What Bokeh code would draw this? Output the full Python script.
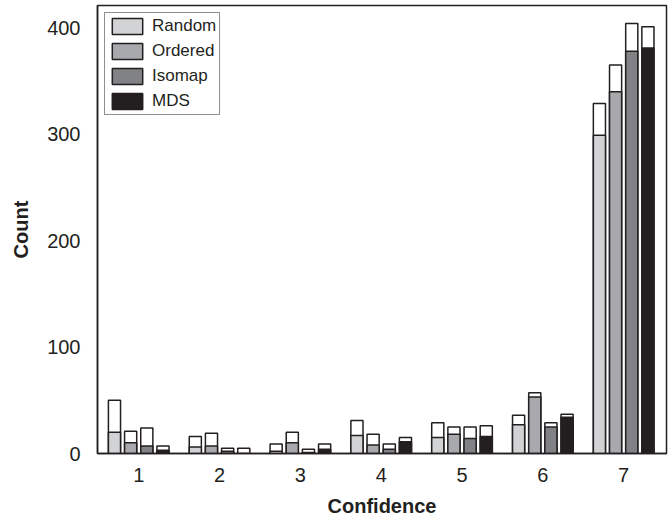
from bokeh.plotting import figure
from bokeh.models import ColumnDataSource, FixedTicker, Range1d, Legend
from bokeh.transform import dodge
from bokeh.embed import file_html
from bokeh.resources import INLINE

confidence = [1, 2, 3, 4, 5, 6, 7]
series = ["Random", "Ordered", "Isomap", "MDS"]

random_fill = [20, 6, 2, 17, 15, 27, 299]
random_total = [50, 16, 9, 31, 29, 36, 329]
ordered_fill = [10, 7, 10, 8, 18, 53, 340]
ordered_total = [21, 19, 20, 18, 25, 57, 365]
isomap_fill = [7, 2, 1, 4, 14, 25, 378]
isomap_total = [24, 5, 4, 9, 25, 29, 404]
mds_fill = [3, 0, 4, 11, 16, 34, 381]
mds_total = [7, 5, 9, 15, 26, 37, 401]

y_ticks = [0, 100, 200, 300, 400]

fills = [random_fill, ordered_fill, isomap_fill, mds_fill]
totals = [random_total, ordered_total, isomap_total, mds_total]
colors = ["#d1d3d4", "#a7a9ac", "#808285", "#231f20"]
offsets = [-0.3, -0.1, 0.1, 0.3]
ink = "#231f20"
font = "Liberation Sans"

p = figure(width=670, height=521, output_backend="svg", toolbar_location=None,
           x_range=Range1d(0.49, 7.53), y_range=Range1d(0, 421),
           min_border_left=97, min_border_right=4, min_border_top=5, min_border_bottom=68)

p.xgrid.visible = False
p.ygrid.visible = False
p.outline_line_color = ink
p.outline_line_width = 1.5
p.background_fill_color = "white"
p.border_fill_color = "white"

items = []
for name, f, t, c, off in zip(series, fills, totals, colors, offsets):
    src = ColumnDataSource(dict(x=confidence, fill=f, total=t))
    p.vbar(x=dodge("x", off), top="total", bottom=0, width=0.15, source=src,
           fill_color="white", line_color=ink, line_width=1.5)
    r = p.vbar(x=dodge("x", off), top="fill", bottom=0, width=0.15, source=src,
               fill_color=c, line_color=ink, line_width=1.5)
    items.append((name, [r]))

legend = Legend(items=items, location="top_left", margin=7, padding=3, spacing=5,
                glyph_width=38, glyph_height=20, label_height=20, label_standoff=6,
                label_text_font=font, label_text_font_size="17px", label_text_color=ink,
                border_line_color=ink, border_line_width=1, background_fill_alpha=1)
p.add_layout(legend)

for ax in (p.xaxis[0], p.yaxis[0]):
    ax.major_tick_out = 0
    ax.major_tick_in = 0
    ax.minor_tick_out = 0
    ax.minor_tick_in = 0
    ax.axis_line_color = ink
    ax.axis_line_width = 1.5
    ax.major_label_text_font = font
    ax.major_label_text_font_size = "20px"
    ax.major_label_text_color = ink
    ax.axis_label_text_font = font
    ax.axis_label_text_font_size = "20px"
    ax.axis_label_text_font_style = "bold"
    ax.axis_label_text_color = ink

p.xaxis.ticker = FixedTicker(ticks=confidence)
p.yaxis.ticker = FixedTicker(ticks=y_ticks)
p.xaxis.axis_label = "Confidence"
p.yaxis.axis_label = "Count"
p.xaxis.major_label_standoff = 14
p.xaxis.axis_label_standoff = 10
p.yaxis.major_label_standoff = 17
p.yaxis.axis_label_standoff = 12

open("out.html", "w").write(file_html(p, INLINE))
